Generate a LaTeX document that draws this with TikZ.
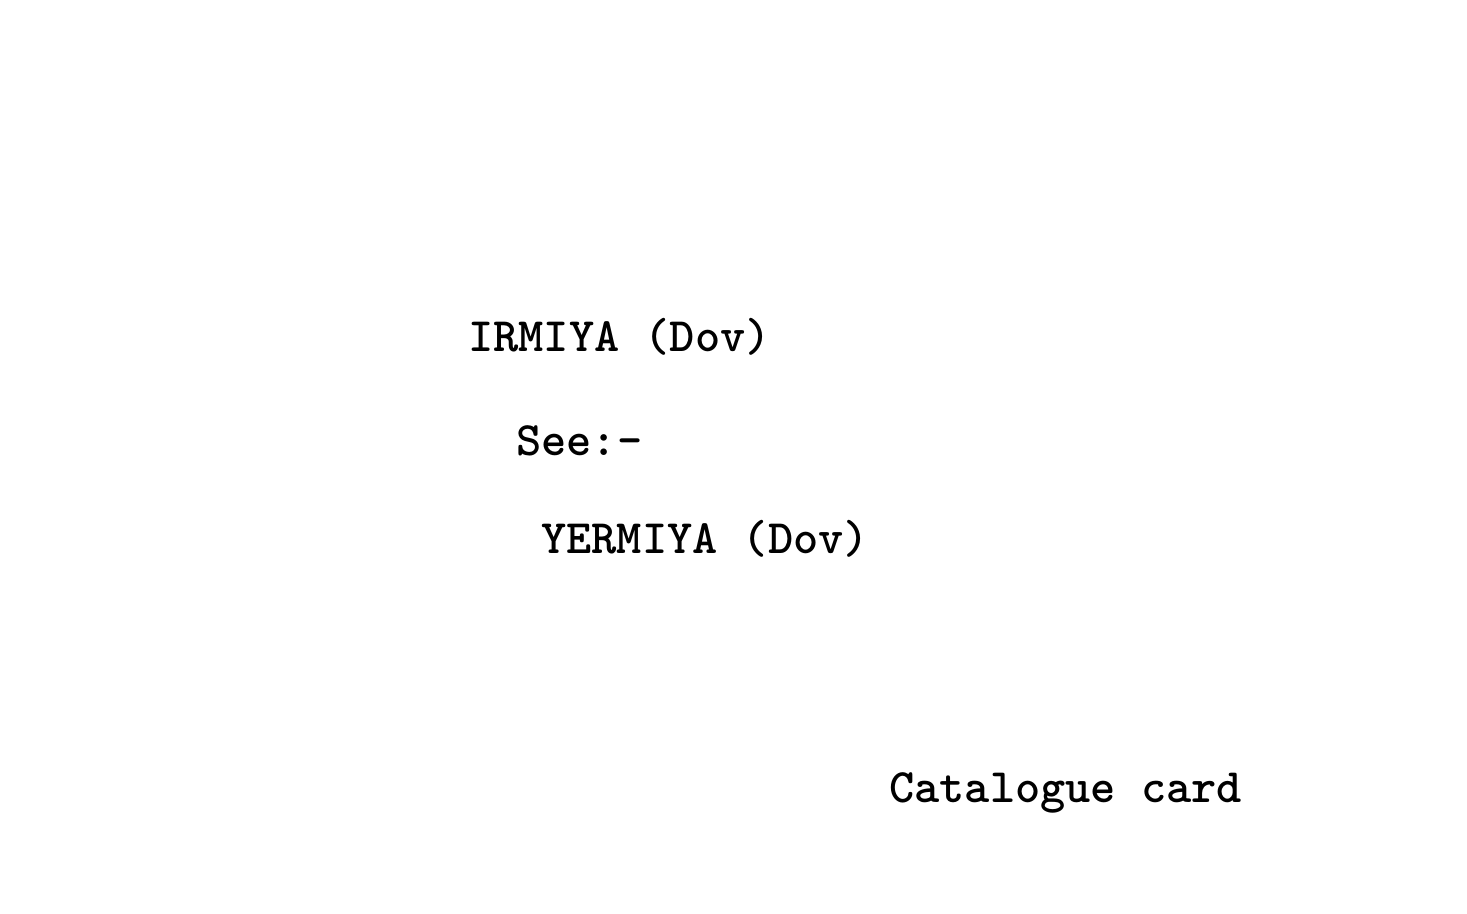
\documentclass[tikz,border=0pt]{standalone}
\begin{document}
\begin{tikzpicture}[x=1pt,y=1pt,
  cardtext/.style={anchor=base west,inner sep=0pt,font=\fontsize{48}{57}\selectfont\ttfamily\bfseries}]
\useasboundingbox[fill=white] (0,0) rectangle (1467,913);
\node[cardtext] (name) at (468,561) {IRMIYA (Dov)};
\node[cardtext] (see) at (516,457) {See:-};
\node[cardtext] (ref) at (541,359) {YERMIYA (Dov)};
\node[cardtext] (label) at (889,110) {Catalogue card};
\end{tikzpicture}
\end{document}
